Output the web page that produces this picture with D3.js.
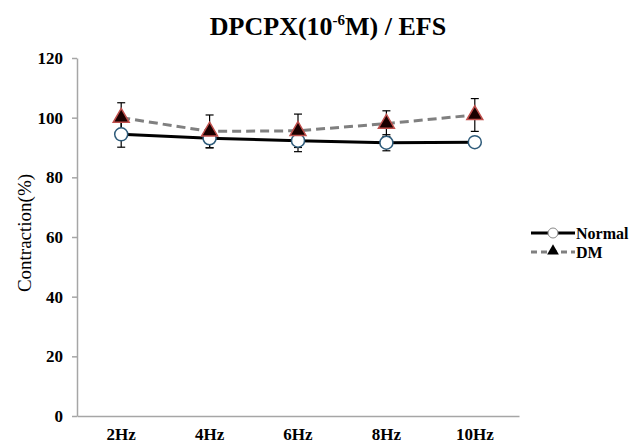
<!DOCTYPE html>
<html><head><meta charset="utf-8">
<script src="https://cdn.jsdelivr.net/npm/d3@7"></script>
<style>body{margin:0;background:#fff}svg{display:block}</style>
</head><body>
<script>
const categories = ["2Hz","4Hz","6Hz","8Hz","10Hz"];
const normalValues = [94.4, 93.1, 92.3, 91.6, 91.8];
const normalErrors = [4.3, 3.2, 3.7, 2.7, 1.5];
const dmValues = [100.0, 95.4, 95.6, 98.0, 100.9];
const dmErrors = [5.0, 5.5, 5.6, 4.3, 5.5];
const yTicks = [0,20,40,60,80,100,120];
const seriesNames = ["Normal","DM"];

const W=634,H=446;
const svg=d3.select("body").append("svg").attr("width",W).attr("height",H);
const x=d3.scaleBand().domain(categories).range([77,519]);
const y=d3.scaleLinear().domain([0,120]).range([416,58]);
const font="'Liberation Serif','Times New Roman',serif";

svg.append("text").attr("x",328).attr("y",35).attr("text-anchor","middle")
  .attr("font-family",font).attr("font-weight","bold").attr("font-size",26)
  .html('DPCPX(10<tspan dy="-10" font-size="15">-6</tspan><tspan dy="10">M) / EFS</tspan>');

const ya=svg.append("g").attr("transform","translate(77,0)")
  .call(d3.axisLeft(y).tickValues(yTicks).tickSize(5).tickPadding(9).tickSizeOuter(0));
ya.attr("font-family",font);
ya.select(".domain").attr("stroke","#a6a6a6").attr("stroke-width",1.5);
ya.selectAll(".tick line").attr("stroke","#a6a6a6").attr("stroke-width",1.5);
ya.selectAll(".tick text").attr("font-family",font).attr("font-weight","bold").attr("font-size",17).attr("fill","#000");

const xa=svg.append("g").attr("transform","translate(0,416)")
  .call(d3.axisBottom(x).tickSize(0).tickPadding(12));
xa.attr("font-family",font);
xa.select(".domain").attr("stroke","#a6a6a6").attr("stroke-width",1.5);
xa.selectAll(".tick text").attr("font-family",font).attr("font-weight","bold").attr("font-size",17).attr("fill","#000");

svg.append("text").attr("transform","translate(31,233) rotate(-90)").attr("text-anchor","middle")
  .attr("font-family",font).attr("font-size",19).attr("fill","#000").text("Contraction(%)");

const cx=c=>x(c)+x.bandwidth()/2;
const line=d3.line().x((d,i)=>cx(categories[i])).y(d=>y(d));

function errBars(vals,errs){
  const g=svg.append("g").attr("stroke","#000").attr("stroke-width",1.2);
  vals.forEach((v,i)=>{
    const c=cx(categories[i]);
    g.append("line").attr("x1",c).attr("x2",c).attr("y1",y(v-errs[i])).attr("y2",y(v+errs[i]));
    [v-errs[i],v+errs[i]].forEach(e=>g.append("line").attr("x1",c-4).attr("x2",c+4).attr("y1",y(e)).attr("y2",y(e)));
  });
}
errBars(normalValues,normalErrors);
errBars(dmValues,dmErrors);

svg.append("path").datum(normalValues).attr("d",line).attr("fill","none").attr("stroke","#000").attr("stroke-width",3);
svg.append("path").datum(dmValues).attr("d",line).attr("fill","none").attr("stroke","#808080").attr("stroke-width",3).attr("stroke-dasharray","9,5");

const tri=d3.symbol().type(d3.symbolTriangle).size(110);
svg.selectAll(".nc").data(normalValues).enter().append("circle")
  .attr("cx",(d,i)=>cx(categories[i])).attr("cy",d=>y(d)).attr("r",6.5)
  .attr("fill","#fff").attr("stroke","#2e5b7a").attr("stroke-width",1.5);
svg.selectAll(".dt").data(dmValues).enter().append("path")
  .attr("d",tri).attr("transform",(d,i)=>`translate(${cx(categories[i])},${y(d)})`)
  .attr("fill","#1a0000").attr("stroke","#c0504d").attr("stroke-width",1.5);

const lg=svg.append("g");
lg.append("line").attr("x1",531).attr("x2",575).attr("y1",233).attr("y2",233).attr("stroke","#000").attr("stroke-width",3);
lg.append("circle").attr("cx",553).attr("cy",233).attr("r",5).attr("fill","#fff").attr("stroke","#888").attr("stroke-width",1);
lg.append("text").attr("x",576).attr("y",238.5).attr("font-family",font).attr("font-weight","bold").attr("font-size",16).text(seriesNames[0]);
lg.append("line").attr("x1",531).attr("x2",575).attr("y1",252).attr("y2",252).attr("stroke","#808080").attr("stroke-width",3).attr("stroke-dasharray","6,4");
lg.append("path").attr("d",d3.symbol().type(d3.symbolTriangle).size(60)).attr("transform","translate(553,251)").attr("fill","#000");
lg.append("text").attr("x",576).attr("y",257.5).attr("font-family",font).attr("font-weight","bold").attr("font-size",16).text(seriesNames[1]);
</script>
</body></html>
